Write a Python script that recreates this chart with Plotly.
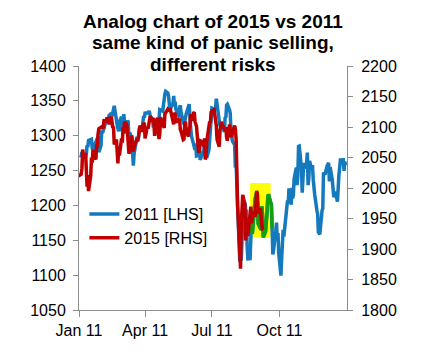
import pandas as pd
import plotly.graph_objects as go

# ---- Data -----------------------------------------------------------------
# S&P 500 daily closes, 2011 (left axis)
dates_2011 = [
    "01-03","01-04","01-05","01-06","01-07","01-10","01-11","01-12","01-13","01-14",
    "01-18","01-19","01-20","01-21","01-24","01-25","01-26","01-27","01-28","01-31",
    "02-01","02-02","02-03","02-04","02-07","02-08","02-09","02-10","02-11","02-14",
    "02-15","02-16","02-17","02-18","02-22","02-23","02-24","02-25","02-28",
    "03-01","03-02","03-03","03-04","03-07","03-08","03-09","03-10","03-11","03-14",
    "03-15","03-16","03-17","03-18","03-21","03-22","03-23","03-24","03-25","03-28",
    "03-29","03-30","03-31",
    "04-01","04-04","04-05","04-06","04-07","04-08","04-11","04-12","04-13","04-14",
    "04-15","04-18","04-19","04-20","04-21","04-25","04-26","04-27","04-28","04-29",
    "05-02","05-03","05-04","05-05","05-06","05-09","05-10","05-11","05-12","05-13",
    "05-16","05-17","05-18","05-19","05-20","05-23","05-24","05-25","05-26","05-27","05-31",
    "06-01","06-02","06-03","06-06","06-07","06-08","06-09","06-10","06-13","06-14",
    "06-15","06-16","06-17","06-20","06-21","06-22","06-23","06-24","06-27","06-28",
    "06-29","06-30",
    "07-01","07-05","07-06","07-07","07-08","07-11","07-12","07-13","07-14","07-15",
    "07-18","07-19","07-20","07-21","07-22","07-25","07-26","07-27","07-28","07-29",
    "08-01","08-02","08-03","08-04","08-05","08-08","08-09","08-10","08-11","08-12",
    "08-15","08-16","08-17","08-18","08-19","08-22","08-23","08-24","08-25","08-26",
    "08-29","08-30","08-31",
    "09-01","09-02","09-06","09-07","09-08","09-09","09-12","09-13","09-14","09-15",
    "09-16","09-19","09-20","09-21","09-22","09-23","09-26","09-27","09-28","09-29","09-30",
    "10-03","10-04","10-05","10-06","10-07","10-10","10-11","10-12","10-13","10-14",
    "10-17","10-18","10-19","10-20","10-21","10-24","10-25","10-26","10-27","10-28","10-31",
    "11-01","11-02","11-03","11-04","11-07","11-08","11-09","11-10","11-11","11-14",
    "11-15","11-16","11-17","11-18","11-21","11-22","11-23","11-25","11-28","11-29","11-30",
    "12-01","12-02","12-05","12-06","12-07","12-08","12-09","12-12","12-13","12-14",
    "12-15","12-16","12-19","12-20","12-21","12-22","12-23","12-27","12-28","12-29","12-30",
]
close_2011 = [
    1271.9,1270.2,1276.6,1273.9,1271.5,1269.8,1274.5,1286.0,1283.8,1293.2,
    1295.0,1281.9,1280.3,1283.4,1290.8,1291.2,1296.6,1299.5,1276.3,1286.1,
    1307.6,1304.0,1307.1,1310.9,1319.1,1324.6,1320.9,1321.9,1329.2,1332.3,
    1328.0,1336.3,1340.4,1343.0,1315.4,1307.4,1306.1,1319.9,1327.2,
    1306.3,1308.4,1331.0,1321.2,1310.1,1321.8,1320.0,1295.1,1304.3,1296.4,
    1281.9,1256.9,1273.7,1279.2,1298.4,1293.8,1297.5,1309.7,1313.8,1310.2,
    1319.4,1328.3,1325.8,
    1332.4,1332.9,1332.6,1335.5,1333.5,1328.2,1324.5,1314.2,1314.4,1314.5,
    1319.7,1305.1,1312.6,1330.4,1337.4,1335.3,1347.2,1355.7,1360.5,1363.6,
    1361.2,1356.6,1347.3,1335.1,1340.2,1346.3,1357.2,1342.1,1348.7,1337.8,
    1329.5,1329.0,1340.7,1343.6,1333.3,1317.4,1316.3,1320.5,1325.7,1331.1,1345.2,
    1314.6,1312.9,1300.2,1286.2,1284.9,1279.6,1289.0,1271.0,1271.8,1287.9,
    1265.4,1267.6,1271.5,1278.4,1295.5,1287.1,1283.5,1268.5,1280.1,1296.7,
    1307.4,1320.6,
    1339.7,1337.9,1339.2,1353.2,1343.8,1319.5,1313.6,1317.7,1308.9,1316.1,
    1305.4,1326.7,1325.8,1343.8,1345.0,1337.4,1331.9,1304.9,1300.7,1292.3,
    1286.9,1254.1,1260.3,1200.1,1199.4,1119.5,1172.5,1120.8,1172.6,1178.8,
    1204.5,1192.8,1193.9,1140.7,1123.5,1123.8,1162.4,1177.6,1159.3,1176.8,
    1210.1,1212.9,1218.9,
    1204.4,1174.0,1165.2,1198.6,1185.9,1154.2,1162.3,1172.9,1188.7,1209.1,
    1216.0,1204.1,1202.1,1166.8,1129.6,1136.4,1163.0,1175.4,1151.1,1160.4,1131.4,
    1099.2,1124.0,1144.0,1165.0,1155.5,1194.9,1195.5,1207.3,1203.7,1224.6,
    1200.9,1225.4,1209.9,1215.4,1238.3,1254.2,1229.1,1242.0,1284.6,1285.1,1253.3,
    1218.3,1237.9,1261.2,1253.2,1261.1,1275.9,1229.1,1239.7,1263.9,1251.8,
    1257.8,1236.9,1216.1,1215.7,1193.0,1188.0,1161.8,1158.7,1192.6,1195.2,1247.0,
    1244.6,1244.3,1257.1,1258.5,1261.0,1234.4,1255.2,1236.5,1225.7,1211.8,
    1215.8,1219.7,1205.4,1241.3,1243.7,1254.0,1265.3,1265.4,1249.6,1263.0,1257.6,
]

# S&P 500 daily closes, 2015 (right axis), aligned onto the 2011 calendar
dates_2015 = [
    "01-16","01-20","01-21","01-22","01-23","01-26","01-27","01-28","01-29","01-30",
    "02-02","02-03","02-04","02-05","02-06","02-09","02-10","02-11","02-12","02-13",
    "02-17","02-18","02-19","02-20","02-23","02-24","02-25","02-26","02-27",
    "03-02","03-03","03-04","03-05","03-06","03-09","03-10","03-11","03-12","03-13",
    "03-16","03-17","03-18","03-19","03-20","03-23","03-24","03-25","03-26","03-27",
    "03-30","03-31",
    "04-01","04-02","04-06","04-07","04-08","04-09","04-10","04-13","04-14","04-15",
    "04-16","04-17","04-20","04-21","04-22","04-23","04-24","04-27","04-28","04-29","04-30",
    "05-01","05-04","05-05","05-06","05-07","05-08","05-11","05-12","05-13","05-14",
    "05-15","05-18","05-19","05-20","05-21","05-22","05-26","05-27","05-28","05-29",
    "06-01","06-02","06-03","06-04","06-05","06-08","06-09","06-10","06-11","06-12",
    "06-15","06-16","06-17","06-18","06-19","06-22","06-23","06-24","06-25","06-26",
    "06-29","06-30",
    "07-01","07-02","07-06","07-07","07-08","07-09","07-10","07-13","07-14","07-15",
    "07-16","07-17","07-20","07-21","07-22","07-23","07-24","07-27","07-28","07-29",
    "07-30","07-31",
    "08-03","08-04","08-05","08-06","08-07","08-10","08-11","08-12","08-13","08-14",
    "08-17","08-18","08-19","08-20","08-21","08-24","08-25","08-26","08-27","08-28","08-31",
    "09-01","09-02","09-03","09-04","09-08","09-09","09-10","09-11","09-14","09-15",
    "09-16","09-17","09-18","09-21","09-22","09-23","09-24","09-25",
]
close_2015 = [
    2019.4,2022.6,2032.1,2063.2,2051.8,2057.1,2029.6,2002.2,2021.3,1995.0,
    2020.9,2050.0,2041.5,2062.5,2055.5,2046.7,2068.6,2068.5,2088.5,2097.0,
    2100.3,2099.7,2097.5,2110.3,2109.7,2115.5,2113.9,2110.7,2104.5,
    2117.4,2107.8,2098.5,2101.0,2071.3,2079.4,2044.2,2040.2,2066.0,2053.4,
    2081.2,2074.3,2099.5,2089.3,2108.1,2104.4,2091.5,2061.1,2056.2,2061.0,
    2086.2,2067.9,
    2059.7,2067.0,2080.6,2076.3,2081.9,2091.2,2102.1,2092.4,2095.8,2106.6,
    2105.0,2081.2,2100.4,2097.3,2108.0,2112.9,2117.7,2108.9,2114.8,2106.9,2085.5,
    2108.3,2114.5,2089.5,2080.2,2088.0,2116.1,2105.3,2099.1,2098.5,2121.1,
    2122.7,2129.2,2127.8,2125.9,2130.8,2126.1,2104.2,2123.5,2120.8,2107.4,
    2111.7,2109.6,2114.1,2095.8,2092.8,2079.3,2080.2,2105.2,2108.9,2094.1,
    2084.4,2096.3,2100.4,2121.2,2110.0,2122.9,2124.2,2108.6,2102.3,2101.5,
    2057.6,2063.1,
    2077.4,2076.8,2068.8,2081.3,2046.7,2051.3,2076.6,2099.6,2109.0,2107.4,
    2124.3,2126.6,2128.3,2119.2,2114.2,2102.2,2079.7,2067.6,2093.3,2108.6,
    2108.6,2103.8,
    2098.0,2093.3,2099.8,2083.6,2077.6,2104.2,2084.1,2086.1,2083.4,2091.5,
    2102.4,2096.9,2079.6,2035.7,1970.9,1893.2,1867.6,1940.5,1987.7,1988.9,1972.2,
    1913.9,1948.9,1951.1,1921.2,1969.4,1942.0,1952.3,1961.1,1953.0,1978.1,
    1995.3,1990.2,1958.0,1967.0,1942.7,1938.8,1932.2,1931.3,
]

analog_shift_days = 16           # 2015 crash aligned with the 2011 crash
highlight_2011 = ("2011-08-23", "2011-09-21")   # 2011 segment shown in green
box_dates = ("2011-08-22", "2011-09-19")        # yellow highlight box (x)
box_levels = (1919, 2008)                       # yellow highlight box (right axis)

x_ticks = ["2011-01-01", "2011-04-01", "2011-07-01", "2011-10-01"]
x_labels = ["Jan 11", "Apr 11", "Jul 11", "Oct 11"]

title_lines = ["Analog chart of 2015 vs 2011",
               "same kind of panic selling,",
               "different risks"]

# ---- Build ----------------------------------------------------------------
d11 = pd.to_datetime(["2011-" + d for d in dates_2011])
s11 = pd.Series(close_2011, index=d11)
d15 = pd.to_datetime(["2015-" + d for d in dates_2015])
d15_aligned = d15 - pd.DateOffset(years=4) - pd.Timedelta(days=analog_shift_days)
hl = s11[highlight_2011[0]:highlight_2011[1]]

BLUE = "#1479bd"
RED = "#c00000"
GREEN = "#12a012"
AX = "#8c8c8c"
FONT = "Liberation Sans, Arial, sans-serif"
LW = 3.5

fig = go.Figure()
fig.add_trace(go.Scatter(x=s11.index, y=s11.values, mode="lines", name="2011 [LHS]",
                         line=dict(color=BLUE, width=LW), yaxis="y"))
fig.add_trace(go.Scatter(x=d15_aligned, y=close_2015, mode="lines", name="2015 [RHS]",
                         line=dict(color=RED, width=LW), yaxis="y2"))
fig.add_trace(go.Scatter(x=hl.index, y=hl.values, mode="lines", showlegend=False,
                         line=dict(color=GREEN, width=LW), yaxis="y"))

fig.add_shape(type="rect", xref="x", yref="y2", x0=box_dates[0], x1=box_dates[1],
              y0=box_levels[0], y1=box_levels[1], fillcolor="#ffff00",
              line=dict(width=0), layer="below")

# title, one annotation per line for tight line spacing
title_y = [1.1832, 1.0943, 1.0053]
for txt, yy in zip(title_lines, title_y):
    fig.add_annotation(text=f"<b>{txt}</b>", x=0.5, xref="paper", xanchor="center",
                       y=yy, yref="paper", yanchor="middle", showarrow=False,
                       font=dict(family=FONT, size=19, color="#000000"))

fig.update_layout(
    width=440, height=355,
    margin=dict(l=79, r=93, t=66, b=45),
    paper_bgcolor="white", plot_bgcolor="white",
    font=dict(family=FONT, size=16, color="#000000"),
    showlegend=True,
    legend=dict(x=0.02, y=0.463, xanchor="left", yanchor="top",
                bgcolor="rgba(0,0,0,0)", font=dict(size=16), tracegroupgap=0),
    xaxis=dict(range=["2011-01-01", "2012-01-01"], tickvals=x_ticks, ticktext=x_labels,
               showgrid=False, zeroline=False, showline=True, linecolor=AX, linewidth=1,
               ticks="outside", ticklen=6, tickcolor=AX),
    yaxis=dict(range=[1050, 1400], dtick=50, showgrid=False, zeroline=False,
               showline=True, linecolor=AX, linewidth=1,
               ticks="outside", ticklen=5, tickcolor=AX, ticklabelstandoff=4),
    yaxis2=dict(range=[1800, 2200], dtick=50, overlaying="y", side="right",
                showgrid=False, zeroline=False, showline=True, linecolor=AX,
                linewidth=1, ticks="outside", ticklen=5, tickcolor=AX,
                ticklabelstandoff=5),
)

fig.write_html("out.html", config={"displayModeBar": False},
               post_script="document.body.style.margin='0';")
